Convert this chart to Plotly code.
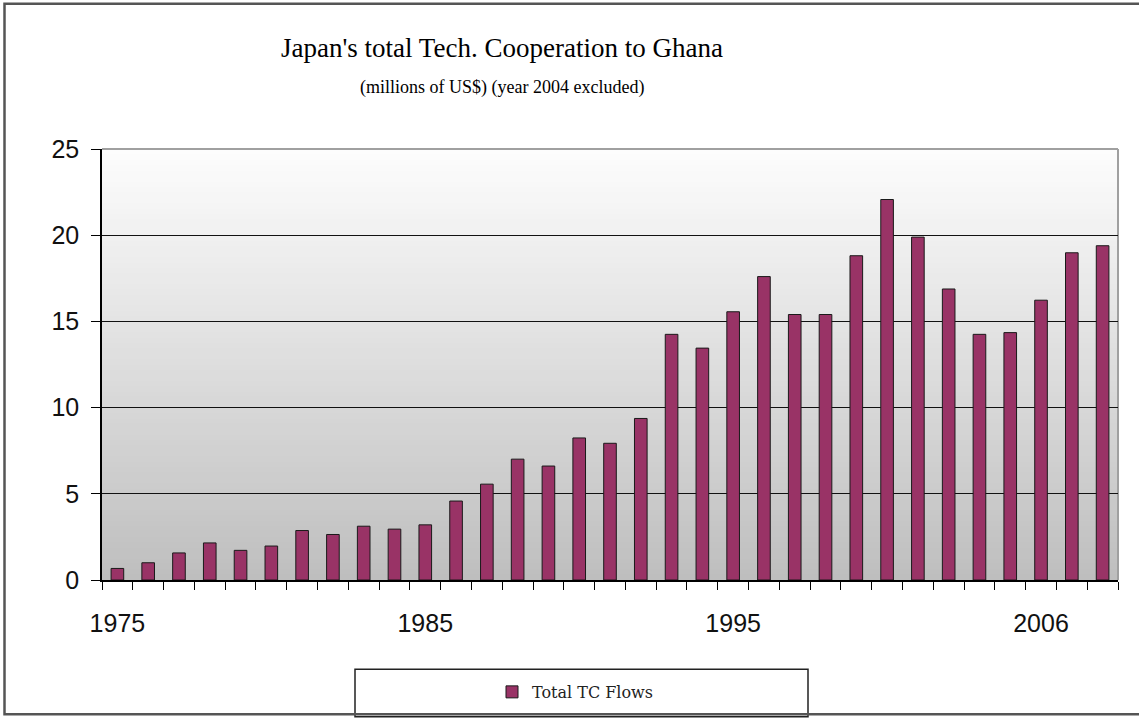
import plotly.graph_objects as go

years = [str(y) for y in list(range(1975, 2004)) + [2005, 2006, 2007, 2008]]
values = [0.67, 1.0, 1.57, 2.15, 1.72, 1.97, 2.87, 2.64, 3.12, 2.95,
          3.2, 4.58, 5.56, 7.01, 6.61, 8.24, 7.93, 9.37, 14.25, 13.45,
          15.56, 17.6, 15.4, 15.4, 18.81, 22.07, 19.89, 16.88, 14.25,
          14.35, 16.23, 18.98, 19.39]
label_years = ["1975", "1985", "1995", "2006"]
y_ticks = [0, 5, 10, 15, 20, 25]

W, H = 1139, 721
L, R, T, B = 102, 1118, 149, 584


def px(x):
    return (x - L) / (R - L)


def py(y):
    return (B - y) / (B - T)


fig = go.Figure()
fig.add_trace(go.Bar(
    x=years, y=values, name="Total TC Flows",
    marker=dict(color="#993366", line=dict(color="#1a1a1a", width=1)),
))

shapes = []
# gradient background in plot area
n = 80
top_c, bot_c = 253, 190
for i in range(n):
    t = (i + 0.5) / n
    c = round(top_c + (bot_c - top_c) * t)
    shapes.append(dict(type="rect", xref="paper", yref="paper",
                       x0=0, x1=1, y0=1 - (i + 1) / n - 0.002, y1=1 - i / n,
                       fillcolor=f"rgb({c},{c},{c})", line=dict(width=0),
                       layer="below"))
# gray plot border top/right
shapes.append(dict(type="line", xref="paper", yref="paper", x0=0, x1=1, y0=1, y1=1,
                   line=dict(color="#a0a0a0", width=2), layer="above"))
shapes.append(dict(type="line", xref="paper", yref="paper", x0=1, x1=1, y0=0, y1=1,
                   line=dict(color="#a0a0a0", width=2), layer="below"))
# legend box
shapes.append(dict(type="rect", xref="paper", yref="paper",
                   x0=px(355), x1=px(808), y0=py(722), y1=py(674),
                   line=dict(color="#222222", width=1.5), fillcolor="rgba(0,0,0,0)"))
# outer frame
shapes.append(dict(type="rect", xref="paper", yref="paper",
                   x0=px(4.5), x1=px(1142), y0=py(719.5), y1=py(2.5),
                   line=dict(color="#555555", width=2.5), fillcolor="rgba(0,0,0,0)"))

fig.update_layout(
    width=W, height=H,
    margin=dict(l=L, r=W - R, t=T, b=H - B),
    paper_bgcolor="white",
    plot_bgcolor="rgba(0,0,0,0)",
    bargap=0.59,
    shapes=shapes,
    showlegend=True,
    legend=dict(x=px(492), y=py(697), xanchor="left", yanchor="middle",
                orientation="h", bgcolor="rgba(0,0,0,0)", borderwidth=0,
                font=dict(family="DejaVu Serif", size=16, color="#222222"),
                itemwidth=30),
    annotations=[
        dict(text="Japan's total Tech. Cooperation to Ghana", xref="paper", yref="paper",
             x=px(502), y=py(47), xanchor="center", yanchor="middle", showarrow=False,
             font=dict(family="Liberation Serif", size=27, color="#000000")),
        dict(text="(millions of US$) (year 2004 excluded)", xref="paper", yref="paper",
             x=px(502), y=py(87), xanchor="center", yanchor="middle", showarrow=False,
             font=dict(family="Liberation Serif", size=18, color="#000000")),
    ],
)

fig.update_xaxes(
    type="category",
    tickvals=years,
    ticktext=[y if y in label_years else "" for y in years],
    tickangle=0,
    tickson="boundaries",
    ticks="outside", ticklen=8, tickcolor="black", tickwidth=1,
    showline=True, linecolor="black", linewidth=1.5,
    showgrid=False,
    ticklabelstandoff=20,
    tickfont=dict(family="Liberation Sans", size=25, color="#111111"),
)
fig.update_yaxes(
    range=[0, 25],
    tickvals=y_ticks,
    ticks="outside", ticklen=9, tickcolor="black", tickwidth=1,
    showline=True, linecolor="black", linewidth=1.5,
    showgrid=True, gridcolor="#111111", gridwidth=1,
    zeroline=False,
    ticklabelstandoff=7,
    tickfont=dict(family="Liberation Sans", size=25, color="#111111"),
)

fig.write_html("out.html")
